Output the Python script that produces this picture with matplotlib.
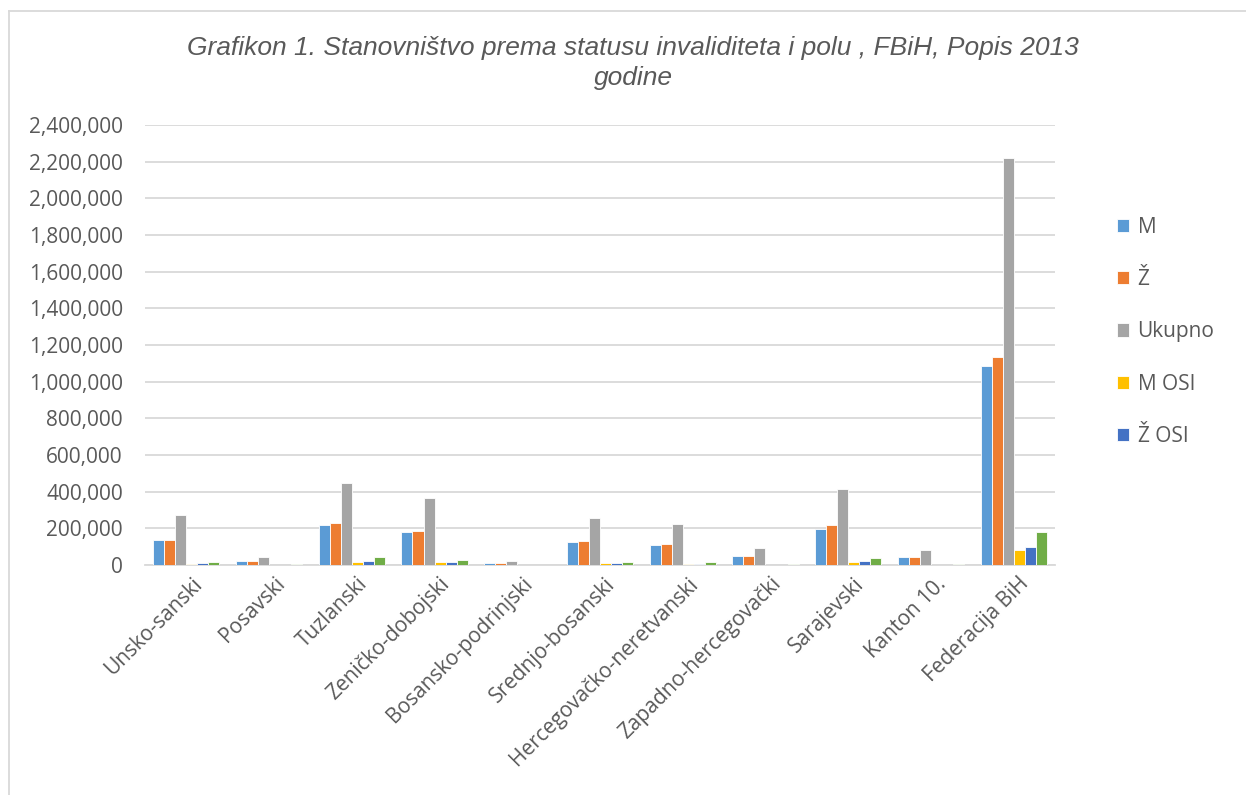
import numpy as np
import matplotlib.pyplot as plt
from matplotlib.lines import Line2D
from matplotlib.ticker import FuncFormatter, MultipleLocator

# Data (population by disability status and sex, FBiH census 2013)
kantoni = ['Unsko-sanski', 'Posavski', 'Tuzlanski', 'Zeničko-dobojski',
           'Bosansko-podrinjski', 'Srednjo-bosanski', 'Hercegovačko-neretvanski',
           'Zapadno-hercegovački', 'Sarajevski', 'Kanton 10.', 'Federacija BiH']
m = [136000, 21500, 218000, 180000, 11700, 126000, 108000, 47000, 197000, 42000, 1086000]
z = [137000, 22000, 227000, 184000, 12000, 129000, 114000, 48000, 216000, 42000, 1133000]
ukupno = [273000, 43500, 445000, 364000, 23700, 255000, 222000, 95000, 413600, 84000, 2219000]
m_osi = [8000, 1500, 18000, 14000, 1000, 9000, 7000, 1500, 14000, 2000, 82000]
z_osi = [10000, 1800, 24000, 16000, 1200, 10000, 8000, 1800, 22000, 2200, 100000]
ukupno_osi = [18000, 3300, 42000, 30000, 2200, 19000, 15000, 3300, 36000, 4200, 182000]

series = [('M', m, '#5B9BD5'), ('Ž', z, '#ED7D31'), ('Ukupno', ukupno, '#A5A5A5'),
          ('M OSI', m_osi, '#FFC000'), ('Ž OSI', z_osi, '#4472C4'),
          ('Ukupno OSI', ukupno_osi, '#70AD47')]

plt.rcParams['font.family'] = ['Open Sans', 'DejaVu Sans']

fig = plt.figure(figsize=(12.46, 7.95), dpi=100)
ax = fig.add_axes([145 / 1246, 1 - 565 / 795, 910 / 1246, 440 / 795])

x = np.arange(len(kantoni))
bw = 0.8 / 6
handles = []
for i, (name, vals, col) in enumerate(series):
    b = ax.bar(x - 0.4 + bw * (i + 0.5), vals, bw, color=col, edgecolor='#ffffff',
               linewidth=0.6, label=name, zorder=3)
    if name != 'Ukupno OSI':
        handles.append(b)

ax.set_xlim(-0.5, len(kantoni) - 0.5)
ax.set_ylim(0, 2400000)
ax.yaxis.set_major_locator(MultipleLocator(200000))
ax.yaxis.set_major_formatter(FuncFormatter(lambda v, p: f'{int(v):,}'))
ax.grid(axis='y', color='#D9D9D9', linewidth=1.3, zorder=0)
for s in ['top', 'right', 'left']:
    ax.spines[s].set_visible(False)
ax.spines['bottom'].set_color('#D9D9D9')
ax.spines['bottom'].set_linewidth(1.3)
ax.tick_params(axis='both', length=0, colors='#595959', labelsize=15)
ax.tick_params(axis='y', pad=16)
ax.tick_params(axis='x', pad=6)
ax.set_xticks(x + 0.06)
ax.set_xticklabels(kantoni, rotation=45, ha='right', rotation_mode='anchor')

fig.legend(handles=handles, labels=[h.get_label() for h in handles],
           loc='upper left', bbox_to_anchor=(1098 / 1246, 1 - 198 / 795),
           frameon=False, fontsize=15, labelcolor='#595959', handlelength=0.6,
           handleheight=0.6, handletextpad=0.4, labelspacing=1.5)

fig.text(633 / 1246, 1 - 63 / 795,
         'Grafikon 1. Stanovništvo prema statusu invaliditeta i polu , FBiH, Popis 2013\ngodine',
         ha='center', va='center', fontsize=19, style='italic', color='#595959',
         family=['Liberation Sans', 'DejaVu Sans'], linespacing=1.35)

# chart frame (only left and top edges visible in the crop)
fig.add_artist(Line2D([9 / 1246, 9 / 1246], [0, 1 - 11 / 795], transform=fig.transFigure,
                      color='#D9D9D9', linewidth=1.3))
fig.add_artist(Line2D([9 / 1246, 1], [1 - 11 / 795, 1 - 11 / 795], transform=fig.transFigure,
                      color='#D9D9D9', linewidth=1.3))

fig.savefig('out.png', dpi=100)
